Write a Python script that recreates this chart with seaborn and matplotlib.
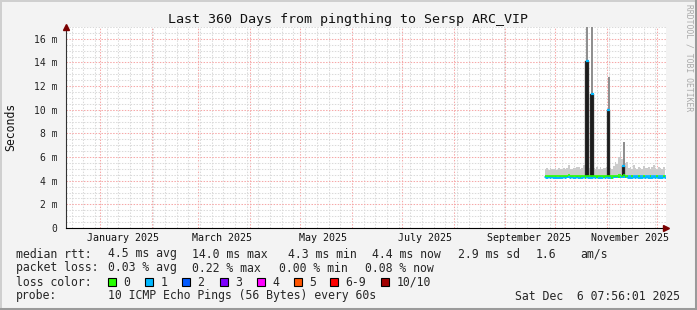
import numpy as np
import pandas as pd
import matplotlib
matplotlib.use("Agg")
import matplotlib.pyplot as plt
import matplotlib.dates as mdates
from matplotlib.patches import Rectangle
from matplotlib.lines import Line2D
import seaborn as sns

# ---------------- data ----------------
title = "Last 360 Days from pingthing to Sersp ARC_VIP"
range_start = "2024-12-11 07:56"
range_end = "2025-12-06 07:56"
data_start = "2025-09-25"

# upper edge of the grey "smoke" (ms), one value per day from data_start
smoke_top = [4.95, 5.05, 4.90, 5.10, 5.00, 4.95,
             5.05, 4.90, 5.10, 5.00, 4.95, 5.10, 5.00, 5.05, 5.35, 5.00,
             4.95, 5.10, 5.05, 5.15, 5.20, 5.00, 5.10, 5.30, 5.00, 5.25,
             5.05, 5.00, 5.20, 5.10, 5.00, 5.20, 4.95, 5.15, 5.00, 5.10, 5.05,
             5.20, 5.30, 5.10, 5.00, 5.25, 5.60, 5.40, 6.00, 6.40, 5.80,
             5.90, 5.50, 5.60, 5.10, 5.20, 5.00, 5.30, 5.10, 5.00, 5.20,
             5.10, 5.00, 5.25, 5.10, 5.05, 5.20, 5.00, 5.15, 5.30, 5.10,
             5.00, 5.20, 5.10, 5.00, 5.15, 5.05]
smoke_floor = 4.25

# median rtt (ms) per day
median_ms = [4.36, 4.35, 4.36, 4.35, 4.36, 4.35,
             4.36, 4.35, 4.35, 4.36, 4.35, 4.36, 4.35, 4.36, 4.38, 4.35,
             4.36, 4.35, 4.35, 4.36, 4.35, 4.36, 4.35, 4.36, 4.35, 4.36,
             4.35, 4.36, 4.35, 4.36, 4.35, 4.36, 4.35, 4.36, 4.35, 4.36, 4.35,
             4.36, 4.35, 4.36, 4.35, 4.36, 4.37, 4.36, 4.38, 4.40, 4.37,
             4.38, 4.36, 4.36, 4.35, 4.36, 4.35, 4.36, 4.35, 4.36, 4.35,
             4.36, 4.35, 4.36, 4.35, 4.36, 4.35, 4.36, 4.35, 4.36, 4.35,
             4.36, 4.35, 4.36, 4.35, 4.36, 4.35]

# loss state per day: 0 = no loss (green), 1 = 1/10 lost (cyan), 2 = mixed
loss_state = [2, 2, 2, 2, 2, 2,
              2, 2, 2, 2, 2, 2, 2, 2, 2, 2,
              2, 2, 2, 2, 2, 0, 2, 2, 0, 2,
              2, 2, 2, 2, 2, 0, 2, 2, 2, 0, 2,
              2, 2, 2, 0, 2, 2, 2, 0, 2, 2,
              2, 0, 2, 1, 1, 2, 1, 1, 1, 2,
              1, 1, 2, 1, 1, 1, 2, 1, 1, 1,
              2, 1, 1, 1, 2, 1]

# latency spikes
spike_dates = ["2025-10-20", "2025-10-23", "2025-11-02", "2025-11-11"]
spike_median = [14.1, 11.3, 10.0, 5.25]
spike_max = [17.5, 17.5, 12.8, 7.3]

y_ticks = [0, 2, 4, 6, 8, 10, 12, 14, 16]
y_tick_labels = ["0", "2 m", "4 m", "6 m", "8 m", "10 m", "12 m", "14 m", "16 m"]
month_labels = ["January 2025", "March 2025", "May 2025",
                "July 2025", "September 2025", "November 2025"]
month_label_dates = ["2025-01-15", "2025-03-15", "2025-05-15",
                     "2025-07-15", "2025-09-15", "2025-11-15"]

rtt_fields = ["4.5 ms avg", "14.0 ms max", "4.3 ms min", "4.4 ms now", "2.9 ms sd", "1.6", "am/s"]
loss_fields = ["0.03 % avg", "0.22 % max", "0.00 % min", "0.08 % now"]
loss_names = ["0", "1", "2", "3", "4", "5", "6-9", "10/10"]
loss_colors = ["#26ff00", "#00b8ff", "#0059ff", "#7e00ff", "#ff00ff", "#ff5500", "#ff0000", "#a10000"]
probe_text = "10 ICMP Echo Pings (56 Bytes) every 60s"
stamp_text = "Sat Dec  6 07:56:01 2025"

# ---------------- style ----------------
W, H = 697, 310
sns.set_theme(style="white")
MONO = ["DejaVu Sans Mono"]
plt.rcParams["font.family"] = MONO
plt.rcParams["axes.unicode_minus"] = False

fig = plt.figure(figsize=(W / 100, H / 100), dpi=100)
fig.patch.set_facecolor("#f3f3f3")

ax_l, ax_r, ax_t, ax_b = 65.5, 666.0, 27.0, 228.0
ax = fig.add_axes([ax_l / W, 1 - ax_b / H, (ax_r - ax_l) / W, (ax_b - ax_t) / H])
ax.set_facecolor("white")

t0 = pd.Timestamp(range_start)
t1 = pd.Timestamp(range_end)

days = pd.date_range(data_start, periods=len(smoke_top), freq="D")
smoke_top_a = np.array(smoke_top)
median_a = np.array(median_ms)
state_a = np.array(loss_state)

# smoke
ax.fill_between(days, smoke_floor, smoke_top_a, step="mid", color="#cbcbcb", lw=0, zorder=2)

# spikes: dark bar up to median, grey line up to max, cyan cap at median
sd = pd.to_datetime(spike_dates)
sm = np.array(spike_median)
sx = np.array(spike_max)
ax.vlines(sd, sm, sx, color="#8c8c8c", lw=1.4, zorder=3)
ax.bar(sd, sm - 4.35, bottom=4.35, width=1.9, color="#1c1c1c", edgecolor="#555555",
       lw=0.3, zorder=4)
half = pd.Timedelta(hours=22)
ax.hlines(sm, sd - half, sd + half, color="#00b8ff", lw=1.6, zorder=5)

# median line, coloured by loss
h12 = pd.Timedelta(hours=12)
lo_col = np.where(state_a == 0, loss_colors[0], loss_colors[1])
hi_col = np.where(state_a == 1, loss_colors[1], loss_colors[0])
sns.lineplot(x=days, y=median_a - 0.08, ax=ax, color=loss_colors[1], lw=1.2,
             drawstyle="steps-mid", zorder=5)
ax.hlines(median_a - 0.08, days - h12, days + h12, colors=lo_col, lw=1.2, zorder=5)
ax.hlines(median_a + 0.07, days - h12, days + h12, colors=hi_col, lw=1.2, zorder=5)

ax.set_xlim(t0, t1)
ax.set_ylim(0, 17.0)
ax.set_xlabel("")
ax.set_ylabel("")

# grid
ax.xaxis.set_major_locator(mdates.MonthLocator())
ax.xaxis.set_minor_locator(mdates.WeekdayLocator(byweekday=mdates.SU))
ax.yaxis.set_major_locator(matplotlib.ticker.FixedLocator(y_ticks))
ax.yaxis.set_minor_locator(matplotlib.ticker.MultipleLocator(0.5))
ax.grid(which="minor", color="#dadada", lw=0.75, linestyle=(0, (1.4, 1.4)), zorder=0)
ax.grid(which="major", color="#f6a8a8", lw=0.75, linestyle=(0, (1.4, 1.4)), zorder=0)
ax.set_axisbelow(True)
ax.set_xticklabels([])
ax.set_yticklabels(y_tick_labels, fontsize=7, color="#222222")
ax.tick_params(axis="y", which="major", length=2, width=0.7, color="#999999", pad=4)
ax.tick_params(axis="y", which="minor", length=2, width=0.7, color="#bbbbbb")
ax.tick_params(axis="x", which="major", length=3, width=0.7, color="#ee9999", direction="out")
ax.tick_params(axis="x", which="minor", length=2, width=0.7, color="#bbbbbb", direction="out")

for s in ["top", "right"]:
    ax.spines[s].set_visible(False)
ax.spines["left"].set_color("#333333")
ax.spines["left"].set_linewidth(0.8)
ax.spines["bottom"].set_color("#000000")
ax.spines["bottom"].set_linewidth(0.8)
ax.spines["left"].set_zorder(6)
ax.spines["bottom"].set_zorder(6)

# month labels
xt = ax.get_xaxis_transform()
for lab, d in zip(month_labels, month_label_dates):
    ax.text(pd.Timestamp(d), -(238 - ax_b) / (ax_b - ax_t), lab, transform=xt,
            ha="center", va="center", fontsize=7.2, color="#111111")

# axis arrows
ax.plot([1.0], [0.0], marker=">", ms=4.5, color="#7a0000", transform=ax.transAxes,
        clip_on=False, zorder=7)
ax.plot([0.0], [1.0], marker="^", ms=4.5, color="#7a0000", transform=ax.transAxes,
        clip_on=False, zorder=7)

# ---------------- figure texts ----------------
def fx(px):
    return px / W

def fy(py):
    return 1 - py / H

fig.text(0.5, fy(19), title, ha="center", va="center", fontsize=9.6, color="#111111")
fig.text(fx(11), fy(127), "Seconds", rotation=90, ha="center", va="center",
         fontsize=8.3, color="#111111")
fig.text(fx(689), fy(4), "RRDTOOL / TOBI OETIKER", rotation=270, ha="center", va="top",
         fontsize=5.8, color="#aaaaaa")

LF = 8.3
rtt_x = [108, 192.5, 288, 372, 458, 536, 580]
fig.text(fx(16), fy(254), "median rtt:", ha="left", va="center", fontsize=LF)
for t, x in zip(rtt_fields, rtt_x):
    fig.text(fx(x), fy(254), t, ha="left", va="center", fontsize=LF)

loss_x = [108, 192.5, 279, 365]
fig.text(fx(16), fy(268), "packet loss:", ha="left", va="center", fontsize=LF)
for t, x in zip(loss_fields, loss_x):
    fig.text(fx(x), fy(268), t, ha="left", va="center", fontsize=LF)

box_x = [108, 145, 182, 219.5, 257, 294, 330, 381]
fig.text(fx(16), fy(282), "loss color:", ha="left", va="center", fontsize=LF)
for name, col, x in zip(loss_names, loss_colors, box_x):
    fig.patches.append(Rectangle((fx(x), fy(286)), 8 / W, 8 / H, transform=fig.transFigure,
                                 facecolor=col, edgecolor="black", lw=0.8, figure=fig))
    fig.text(fx(x + 15.5), fy(282), name, ha="left", va="center", fontsize=LF)

fig.text(fx(16), fy(296), "probe:", ha="left", va="center", fontsize=LF)
fig.text(fx(108), fy(296), probe_text, ha="left", va="center", fontsize=LF)
fig.text(fx(680), fy(296), stamp_text, ha="right", va="center", fontsize=LF)

# image border (rrdtool style)
def fline(x0, y0, x1, y1, col, lw):
    fig.lines.append(Line2D([fx(x0), fx(x1)], [fy(y0), fy(y1)], transform=fig.transFigure,
                            color=col, lw=lw, figure=fig))

fline(0, 0.7, W, 0.7, "#cfcfcf", 1.4)
fline(0.7, 0, 0.7, H, "#cfcfcf", 1.4)
fline(W - 1.5, 0, W - 1.5, H, "#9a9a9a", 2.2)
fline(0, H - 1.5, W, H - 1.5, "#9a9a9a", 2.2)

fig.savefig("out.png", dpi=100, facecolor=fig.get_facecolor())
